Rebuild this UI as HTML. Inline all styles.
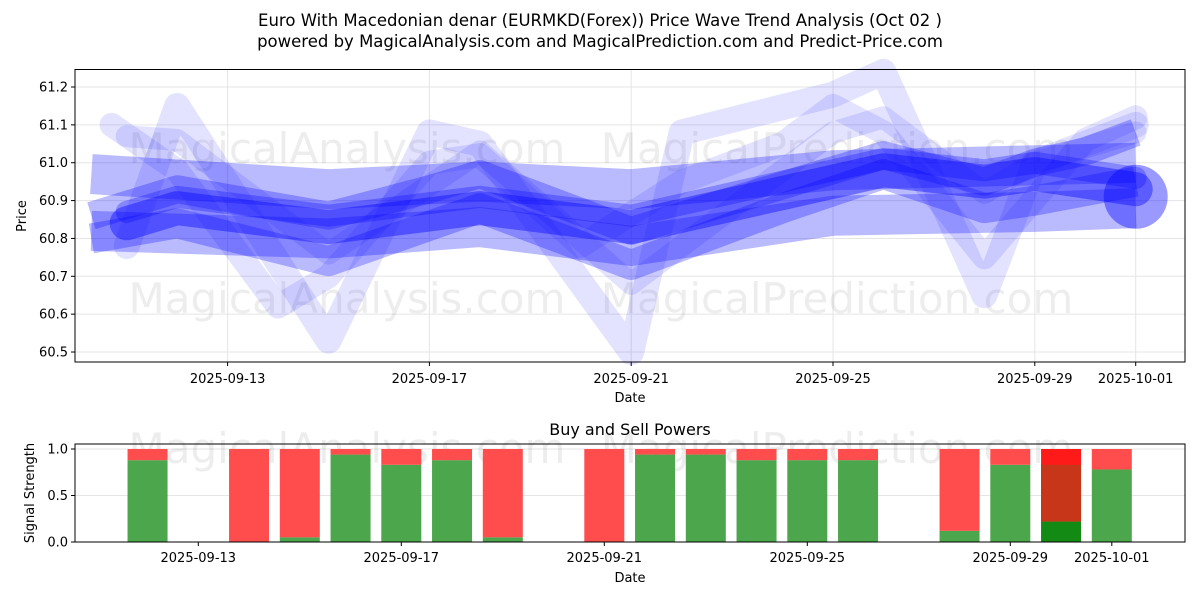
<!DOCTYPE html>
<html><head><meta charset="utf-8"><style>
html,body{margin:0;padding:0;background:#fff;}
svg{display:block;font-family:"DejaVu Sans","Liberation Sans",sans-serif;}
</style></head><body>
<svg id="chart" width="1200" height="600" viewBox="0 0 1200 600" xmlns="http://www.w3.org/2000/svg">
<text x="600" y="26" text-anchor="middle" font-size="16.5" fill="#000">Euro With Macedonian denar (EURMKD(Forex)) Price Wave Trend Analysis (Oct 02 )</text>
<text x="600" y="47" text-anchor="middle" font-size="16.5" fill="#000">powered by MagicalAnalysis.com and MagicalPrediction.com and Predict-Price.com</text>
<g id="topPanel"></g>
<g id="botPanel"></g>
</svg>
<script>
// ---- top chart data (day offsets from 2025-09-11) ----
const topTickLabels = ["2025-09-13","2025-09-17","2025-09-21","2025-09-25","2025-09-29","2025-10-01"];
const topTickDays = [2,6,10,14,18,20];
const yTicks = [60.5,60.6,60.7,60.8,60.9,61.0,61.1,61.2];
const coreDays = [0,1,4,7,10,13,15,17,18,20];
const coreVals = [60.84,60.88,60.83,60.88,60.83,60.92,60.98,60.95,60.97,60.93];
const bandADays = [-0.7,4,7,10,14,17,20];
const bandAVals = [60.97,60.93,60.95,60.93,60.98,60.99,61.0];
const bandBDays = [-0.7,4,7,10,14,18,20];
const bandBVals = [60.82,60.80,60.83,60.78,60.86,60.87,60.88];
const bandCDays = [-0.7,1,4,7,10,13,15,17,18,20];
const bandCVals = [60.80,60.84,60.74,60.88,60.73,60.88,60.97,60.88,60.90,60.95];
const bandDDays = [-0.7,1,4,6,7,10,12,15,17,18,19,20];
const bandDVals = [60.86,60.93,60.86,60.93,60.97,60.82,60.90,61.02,60.95,61.0,61.03,61.08];
const wild1Days = [0,1,4,6,7,10,11,14,15,17,18,20];
const wild1Vals = [60.78,61.15,60.53,61.08,61.05,60.50,61.08,61.18,61.24,60.65,61.0,61.1];
const wild2Days = [-0.3,1,3,4,6,7,9,11,13,14,15,17,19,20];
const wild2Vals = [61.10,60.98,60.62,60.70,61.0,61.02,60.78,60.95,61.05,61.15,61.08,60.75,61.06,61.12];
const wild3Days = [0,1,4,7,10,14,15,17,18,20];
const wild3Vals = [61.07,61.06,60.76,61.03,60.68,61.08,61.12,60.92,61.0,61.08];
const endDays = [20];
const endVals = [60.91];

// ---- bottom chart data ----
const barDays = [1,3,4,5,6,7,8,10,11,12,13,14,15,17,18,19,20];
const buyVals = [0.88,0,0.05,0.94,0.83,0.88,0.05,0,0.94,0.94,0.88,0.88,0.88,0.12,0.83,0.22,0.78];
const botTickLabels = ["2025-09-13","2025-09-17","2025-09-21","2025-09-25","2025-09-29","2025-10-01"];
const botTickDays = [2,6,10,14,18,20];
const sigTicks = [0.0,0.5,1.0];

const NS="http://www.w3.org/2000/svg";
function mk(tag,attrs,parent){const e=document.createElementNS(NS,tag);for(const k in attrs)e.setAttribute(k,attrs[k]);parent.appendChild(e);return e;}

const T={l:75,r:1185,t:69.5,b:362};
const tx=d=>126.7+d*50.45;
const ty=v=>87+(61.2-v)*378.6;
const topG=document.getElementById('topPanel');
const botG=document.getElementById('botPanel');

yTicks.forEach(v=>{const l=mk('line',{x1:T.l,x2:T.r,y1:ty(v),y2:ty(v),stroke:'#e5e5e5','stroke-width':1},topG);

});
topTickDays.forEach(d=>{const l=mk('line',{x1:tx(d),x2:tx(d),y1:T.t,y2:T.b,stroke:'#e5e5e5','stroke-width':1},topG);

});

[[347,163,'MagicalAnalysis.com'],[837,163,'MagicalPrediction.com'],[347,313,'MagicalAnalysis.com'],[837,313,'MagicalPrediction.com']].forEach(w=>{
const t=mk('text',{x:w[0],y:w[1],'text-anchor':'middle','font-size':42,fill:'#000','fill-opacity':0.07},topG);t.textContent=w[2];

});

function line(days,vals,w,op,name,cap){
 const pts=days.map((d,i)=>tx(d)+','+ty(vals[i])).join(' ');
 const p=mk('polyline',{points:pts,fill:'none',stroke:'#0000ff','stroke-width':w,'stroke-opacity':op,'stroke-linejoin':'round','stroke-linecap':cap||'round'},topG);
 
 
}
line(wild1Days,wild1Vals,26,0.11,'wave-line-wild-1');
line(wild2Days,wild2Vals,24,0.11,'wave-line-wild-2');
line(wild3Days,wild3Vals,22,0.11,'wave-line-wild-3');
line(bandADays,bandAVals,40,0.27,'wave-band-upper','butt');
line(bandBDays,bandBVals,40,0.27,'wave-band-lower','butt');
line(bandCDays,bandCVals,30,0.27,'wave-band-c','butt');
line(bandDDays,bandDVals,28,0.27,'wave-band-d','butt');
line(coreDays,coreVals,34,0.4,'wave-core');
line(coreDays,coreVals.map(v=>v+0.03),22,0.28,'wave-core-upper');
endDays.forEach((d,i)=>{const c=mk('circle',{cx:tx(d),cy:ty(endVals[i]),r:32,fill:'#0000ff','fill-opacity':0.4},topG);

});

const f=mk('rect',{x:T.l,y:T.t,width:T.r-T.l,height:T.b-T.t,fill:'none',stroke:'#000','stroke-width':1},topG);


yTicks.forEach(v=>{mk('line',{x1:T.l-4,x2:T.l,y1:ty(v),y2:ty(v),stroke:'#000'},topG);
const t=mk('text',{x:T.l-7,y:ty(v)+4.5,'text-anchor':'end','font-size':13},topG);t.textContent=v.toFixed(1);

});
topTickDays.forEach((d,i)=>{mk('line',{x1:tx(d),x2:tx(d),y1:T.b,y2:T.b+4,stroke:'#000'},topG);
const t=mk('text',{x:tx(d),y:T.b+21,'text-anchor':'middle','font-size':13},topG);t.textContent=topTickLabels[i];

});
let t1=mk('text',{x:630,y:402,'text-anchor':'middle','font-size':13},topG);t1.textContent='Date';


let t2=mk('text',{x:26,y:216,'text-anchor':'middle','font-size':13,transform:'rotate(-90 26 216)'},topG);t2.textContent='Price';



const B={l:75,r:1185,t:444,b:542};
const bx=d=>96.8+d*50.75;
const by=v=>542-v*93;
sigTicks.forEach(v=>{const l=mk('line',{x1:B.l,x2:B.r,y1:by(v),y2:by(v),stroke:'#e5e5e5'},botG);

});
[[347,463,'MagicalAnalysis.com'],[837,463,'MagicalPrediction.com']].forEach(w=>{
const t=mk('text',{x:w[0],y:w[1],'text-anchor':'middle','font-size':42,fill:'#000','fill-opacity':0.07},botG);t.textContent=w[2];

});
barDays.forEach((d,i)=>{
 const x=bx(d)-20;
 const special=(d===19);
 const g=mk('rect',{x:x,y:by(buyVals[i]),width:40,height:by(0)-by(buyVals[i]),fill:special?'#138a13':'#4ca64c'},botG);
 
 
 const r=mk('rect',{x:x,y:by(1),width:40,height:by(buyVals[i])-by(1),fill:special?'#ff1a1a':'#ff4c4c'},botG);
 
 
 if(special){const o=mk('rect',{x:x,y:by(0.83),width:40,height:by(buyVals[i])-by(0.83),fill:'#c8361a'},botG);
 
 }
});
const f2=mk('rect',{x:B.l,y:B.t,width:B.r-B.l,height:B.b-B.t,fill:'none',stroke:'#000'},botG);


sigTicks.forEach(v=>{mk('line',{x1:B.l-4,x2:B.l,y1:by(v),y2:by(v),stroke:'#000'},botG);
const t=mk('text',{x:B.l-7,y:by(v)+4.5,'text-anchor':'end','font-size':13},botG);t.textContent=v.toFixed(1);

});
botTickDays.forEach((d,i)=>{mk('line',{x1:bx(d),x2:bx(d),y1:B.b,y2:B.b+4,stroke:'#000'},botG);
const t=mk('text',{x:bx(d),y:B.b+20,'text-anchor':'middle','font-size':13},botG);t.textContent=botTickLabels[i];

});
let t3=mk('text',{x:630,y:582,'text-anchor':'middle','font-size':13},botG);t3.textContent='Date';


let t4=mk('text',{x:34,y:493,'text-anchor':'middle','font-size':13,transform:'rotate(-90 34 493)'},botG);t4.textContent='Signal Strength';


let t5=mk('text',{x:630,y:435,'text-anchor':'middle','font-size':16},botG);t5.textContent='Buy and Sell Powers';


</script>
</body></html>
